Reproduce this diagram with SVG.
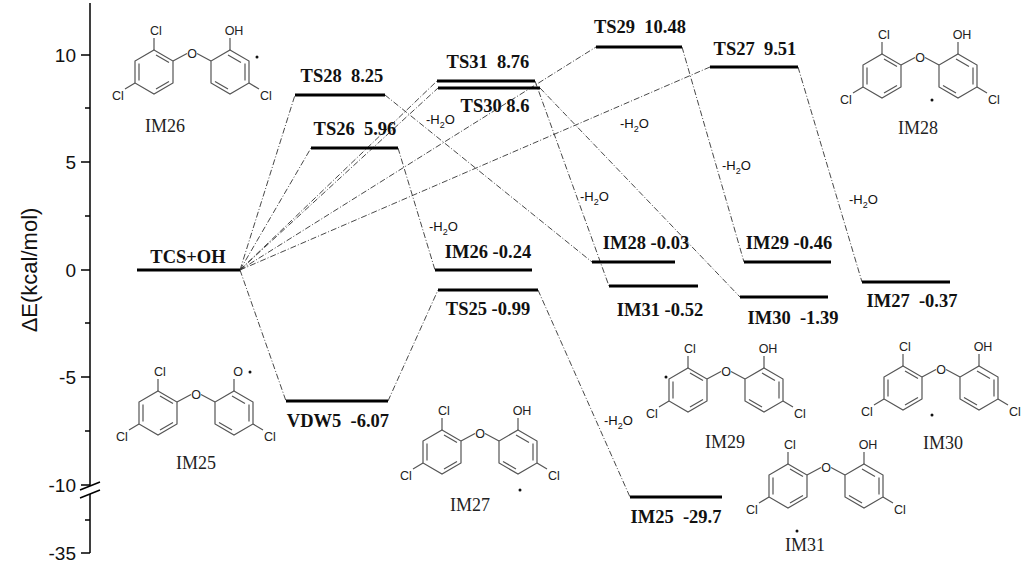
<svg xmlns="http://www.w3.org/2000/svg" xmlns:xlink="http://www.w3.org/1999/xlink" width="1024" height="565" viewBox="0 0 1024 565">
<style>
.lv{stroke:#000;stroke-width:3;fill:none}
.cn{stroke:#333;stroke-width:0.9;fill:none;stroke-dasharray:6 2 1 2}
.lb{font-family:"Liberation Serif",serif;font-weight:bold;font-size:18.5px;fill:#111;white-space:pre}
.ml{font-family:"Liberation Serif",serif;font-size:18px;fill:#222}
.at{font-family:"Liberation Sans",sans-serif;font-size:12.5px;fill:#222}
.h2o{font-family:"Liberation Sans",sans-serif;font-size:13px;fill:#111}
.ax{font-family:"Liberation Sans",sans-serif;font-size:19px;fill:#111}
.bd{stroke:#555;stroke-width:1.2;fill:none}
.dot{fill:#111}
</style>
<defs>
<g id="skel">
<polygon class="bd" points="-38,-22 -19,-11 -19,11 -38,22 -57,11 -57,-11"/>
<polygon class="bd" points="38,-22 57,-11 57,11 38,22 19,11 19,-11"/>
<path class="bd" d="M-53,-8.5V8.5M-36,17L-23,9.5M-36,-17L-23,-9.5M53,-8.5V8.5M36,17L23,9.5M36,-17L49,-9.5"/>
<path class="bd" d="M-19,-11L-5,-18.5M5,-18.5L19,-11M-38,-22V-34M-57,11L-67,17M57,11L67,17M38,-22V-34"/>
<text class="at" x="0" y="-14" text-anchor="middle">O</text>
<text class="at" x="-36" y="-37" text-anchor="middle">Cl</text>
<text class="at" x="-74" y="28" text-anchor="middle">Cl</text>
<text class="at" x="74" y="28" text-anchor="middle">Cl</text>
</g>
</defs>
<g id="axis" stroke="#000" stroke-width="1.5" fill="none">
<path d="M90,3V486M90,494V553"/>
<path d="M90,55H81M90,162H81M90,270H81M90,377H81M90,485H81M90,553H81M90,108H85M90,216H85M90,323H85M90,431H85M90,520H85"/>
<path d="M80,490L100,482M80,498L100,490"/>
</g>
<g class="ax" text-anchor="end">
<text x="76" y="62">10</text><text x="76" y="169">5</text><text x="76" y="277">0</text>
<text x="76" y="384">-5</text><text x="76" y="492">-10</text><text x="76" y="560">-35</text>
</g>
<text transform="translate(37,270) rotate(-90)" text-anchor="middle" font-family="Liberation Sans,sans-serif" font-size="22" fill="#111">ΔE(kcal/mol)</text>
<g id="connectors">
<path class="cn" d="M240,270L295,95M240,270L311,148M240,270L437,81M240,270L438,88M240,270L596,47M240,270L710,67M240,270L286,401"/>
<path class="cn" d="M385,95L592,262M398,148L435,270M535,81L609,286M540,88L740,297M682,47L744,262M798,67L862,282M388,401L438,290M538,290L630,497"/>
</g>
<g id="levels">
<g id="TCS"><line class="lv" x1="137" y1="270" x2="240" y2="270"/><text class="lb" x="188" y="263" text-anchor="middle">TCS+OH</text></g>
<g id="TS28"><line class="lv" x1="295" y1="95" x2="385" y2="95"/><text class="lb" x="342" y="82" text-anchor="middle">TS28  8.25</text></g>
<g id="TS26"><line class="lv" x1="311" y1="148" x2="398" y2="148"/><text class="lb" x="355" y="135" text-anchor="middle">TS26  5.96</text></g>
<g id="TS31"><line class="lv" x1="437" y1="81" x2="535" y2="81"/><text class="lb" x="488" y="68" text-anchor="middle">TS31  8.76</text></g>
<g id="TS30"><line class="lv" x1="438" y1="88" x2="540" y2="88"/><text class="lb" x="495" y="112" text-anchor="middle">TS30 8.6</text></g>
<g id="IM26l"><line class="lv" x1="435" y1="270" x2="532" y2="270"/><text class="lb" x="488" y="258" text-anchor="middle">IM26 -0.24</text></g>
<g id="TS25"><line class="lv" x1="438" y1="290" x2="538" y2="290"/><text class="lb" x="488" y="315" text-anchor="middle">TS25 -0.99</text></g>
<g id="VDW5"><line class="lv" x1="286" y1="401" x2="388" y2="401"/><text class="lb" x="338" y="427" text-anchor="middle">VDW5  -6.07</text></g>
<g id="TS29"><line class="lv" x1="596" y1="47" x2="682" y2="47"/><text class="lb" x="640" y="33" text-anchor="middle">TS29  10.48</text></g>
<g id="TS27"><line class="lv" x1="710" y1="67" x2="798" y2="67"/><text class="lb" x="755" y="55" text-anchor="middle">TS27  9.51</text></g>
<g id="IM28l"><line class="lv" x1="592" y1="262" x2="675" y2="262"/><text class="lb" x="646" y="249" text-anchor="middle">IM28 -0.03</text></g>
<g id="IM31l"><line class="lv" x1="609" y1="286" x2="698" y2="286"/><text class="lb" x="660" y="316" text-anchor="middle">IM31 -0.52</text></g>
<g id="IM29l"><line class="lv" x1="744" y1="262" x2="831" y2="262"/><text class="lb" x="789" y="249" text-anchor="middle">IM29 -0.46</text></g>
<g id="IM30l"><line class="lv" x1="740" y1="297" x2="828" y2="297"/><text class="lb" x="793" y="324" text-anchor="middle">IM30  -1.39</text></g>
<g id="IM27l"><line class="lv" x1="862" y1="282" x2="950" y2="282"/><text class="lb" x="912" y="307" text-anchor="middle">IM27  -0.37</text></g>
<g id="IM25l"><line class="lv" x1="630" y1="497" x2="722" y2="497"/><text class="lb" x="676" y="523" text-anchor="middle">IM25  -29.7</text></g>
</g>
<g id="h2o" class="h2o">
<text x="426" y="124">-H<tspan font-size="9" dy="4">2</tspan><tspan dy="-4">O</tspan></text>
<text x="429" y="231">-H<tspan font-size="9" dy="4">2</tspan><tspan dy="-4">O</tspan></text>
<text x="620" y="128">-H<tspan font-size="9" dy="4">2</tspan><tspan dy="-4">O</tspan></text>
<text x="580" y="201">-H<tspan font-size="9" dy="4">2</tspan><tspan dy="-4">O</tspan></text>
<text x="722" y="170">-H<tspan font-size="9" dy="4">2</tspan><tspan dy="-4">O</tspan></text>
<text x="849" y="204">-H<tspan font-size="9" dy="4">2</tspan><tspan dy="-4">O</tspan></text>
<text x="604" y="425">-H<tspan font-size="9" dy="4">2</tspan><tspan dy="-4">O</tspan></text>
</g>
<g id="mIM26" transform="translate(192,72)"><use href="#skel"/><text class="at" x="42" y="-37" text-anchor="middle">OH</text><circle class="dot" cx="65" cy="-15" r="1.5"/><text class="ml" x="-27" y="60" text-anchor="middle">IM26</text></g>
<g id="mIM25" transform="translate(196,413)"><use href="#skel"/><text class="at" x="42" y="-37" text-anchor="middle">O</text><circle class="dot" cx="54" cy="-41" r="1.5"/><text class="ml" x="0" y="56" text-anchor="middle">IM25</text></g>
<g id="mIM27" transform="translate(480,452)"><use href="#skel"/><text class="at" x="42" y="-37" text-anchor="middle">OH</text><circle class="dot" cx="40" cy="38" r="1.5"/></g>
<text class="ml" x="470" y="511" text-anchor="middle">IM27</text>
<g id="mIM28" transform="translate(920,76)"><use href="#skel"/><text class="at" x="42" y="-37" text-anchor="middle">OH</text><circle class="dot" cx="12" cy="24" r="1.5"/><text class="ml" x="-2" y="58" text-anchor="middle">IM28</text></g>
<g id="mIM29" transform="translate(726,390)"><use href="#skel"/><text class="at" x="42" y="-37" text-anchor="middle">OH</text><circle class="dot" cx="-60" cy="-13" r="1.5"/></g>
<text class="ml" x="725" y="448" text-anchor="middle">IM29</text>
<g id="mIM30" transform="translate(941,388)"><use href="#skel"/><text class="at" x="42" y="-37" text-anchor="middle">OH</text><circle class="dot" cx="-9" cy="27" r="1.5"/></g>
<text class="ml" x="943" y="449" text-anchor="middle">IM30</text>
<g id="mIM31" transform="translate(826,486)"><use href="#skel"/><text class="at" x="42" y="-37" text-anchor="middle">OH</text><circle class="dot" cx="-29" cy="45" r="1.5"/></g>
<text class="ml" x="805" y="551" text-anchor="middle">IM31</text>
</svg>
